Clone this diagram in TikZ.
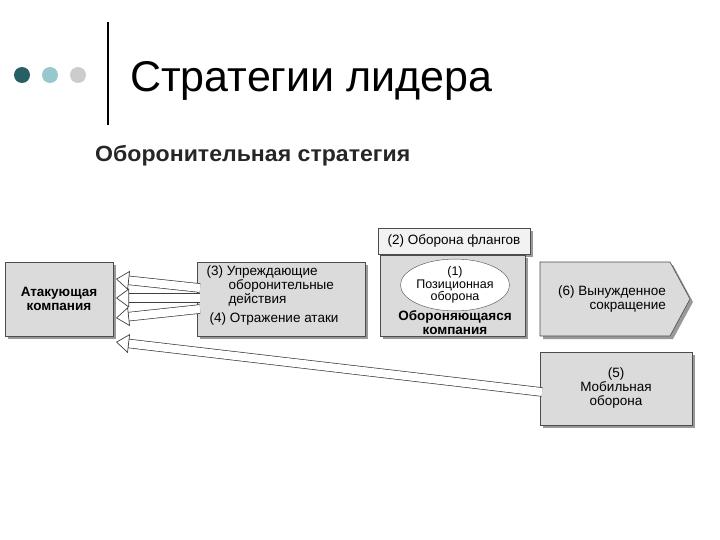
\documentclass[tikz,border=0pt]{standalone}
\usepackage{fontspec}
\setmainfont{Liberation Sans}
\usetikzlibrary{arrows.meta,shapes.geometric,shapes.symbols}
\begin{document}
\begin{tikzpicture}[x=1pt,y=-1pt,
  fs/.style={font=\fontsize{13.5}{14}\selectfont},
  box/.style={draw=black!70,fill=black!14,line width=0.6pt,inner sep=2pt,fs,align=center},
  shad/.style={fill=black!40},
  harrow/.style={draw=black!75,double=white,double distance=8pt,line width=0.7pt,-{Triangle[open,length=13pt,width=19pt]}}]
\useasboundingbox (0,0) rectangle (720,540);
\fill[fill={rgb,255:red,40;green,95;blue,100}] (22,75) circle (8);
\fill[fill={rgb,255:red,150;green,200;blue,205}] (50,75) circle (8);
\fill[fill=black!20] (78,75) circle (8);
\draw[line width=1.5pt] (108,22) -- (108,125);
\node[anchor=base west,font=\fontsize{43}{45}\selectfont,inner sep=0pt] (title) at (130,92) {Стратегии лидера};
\node[anchor=base west,font=\bfseries\fontsize{22}{24}\selectfont,text=black!85,inner sep=0pt,xscale=1.05] (sub) at (95,162) {Оборонительная стратегия};
% shadows
\fill[shad] (8,265) rectangle (116,339);
\fill[shad] (200,265) rectangle (368,339);
\fill[shad] (383,258) rectangle (528,339);
\fill[shad] (381,231) rectangle (533,257);
\fill[shad] (543,355) rectangle (695,428);
\fill[shad] (543,265) -- (673,265) -- (693,302) -- (673,339) -- (543,339) -- cycle;
% boxes
\node[box,minimum width=108pt,minimum height=74pt,font=\bfseries\fontsize{13.5}{14}\selectfont] (att) at (59,299) {Атакующая\\компания};
\node[box,minimum width=168pt,minimum height=74pt] (mid) at (281,299) {};
\node[anchor=north west,align=left,fs] (t3) at (203,262) {(3) Упреждающие\\\hspace*{22pt}оборонительные\\\hspace*{22pt}действия};
\node[anchor=north west,fs] (t4) at (206,309) {(4) Отражение атаки};
\node[box,minimum width=145pt,minimum height=81pt] (def) at (452.5,295.5) {};
\node[draw=black!70,fill=white,ellipse,minimum width=100pt,minimum height=44pt,inner sep=0pt,font=\fontsize{12.5}{12.5}\selectfont,align=center] (pos) at (455,285) {(1)\\Позиционная\\оборона};
\node[font=\bfseries\fontsize{13.5}{14}\selectfont,align=center] (dc) at (455,323) {Обороняющаяся\\компания};
\node[box,fill=black!5,minimum width=152pt,minimum height=26pt] (fl) at (454,241) {(2) Оборона флангов};
\draw[draw=black!70,fill=black!14,line width=0.6pt] (540,262) -- (670,262) -- (690,299) -- (670,336) -- (540,336) -- cycle;
\node[fs,align=right] (t6) at (612,299) {(6) Вынужденное\\сокращение};
\node[box,minimum width=152pt,minimum height=73pt] (mob) at (616,388.5) {(5)\\Мобильная\\оборона};
% arrows
\draw[harrow] (200,288) -- (116,279);
\draw[harrow] (200,298) -- (116,298);
\draw[harrow] (200,309) -- (116,318);
\draw[harrow] (542,392) -- (116,342);
\end{tikzpicture}
\end{document}
